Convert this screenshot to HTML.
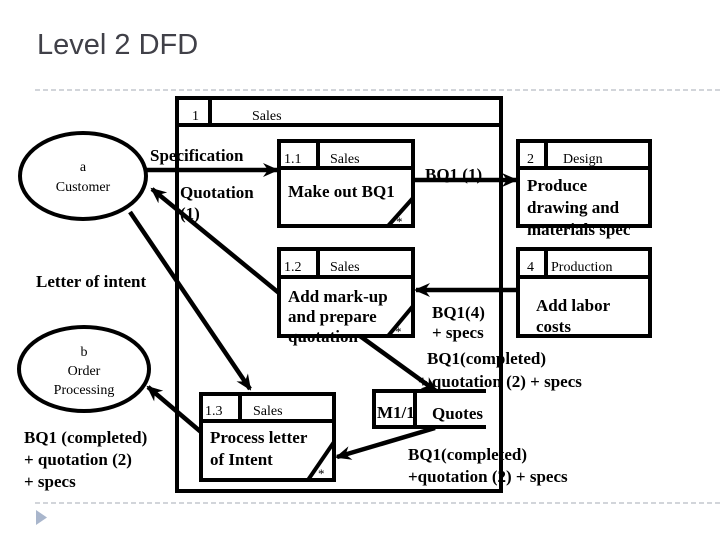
<!DOCTYPE html>
<html><head><meta charset="utf-8"><style>
html,body{margin:0;padding:0;background:#fff;}
svg{display:block;}
.t{font-family:"Liberation Serif",serif;fill:#000;}
.b{font-weight:bold;font-size:17px;}
.h{font-size:14px;}
</style></head><body>
<svg width="720" height="540" viewBox="0 0 720 540" xmlns="http://www.w3.org/2000/svg">
<defs>
<marker id="ar" markerWidth="10" markerHeight="10" refX="8" refY="5" orient="auto" markerUnits="userSpaceOnUse" viewBox="0 0 10 10">
<path d="M0,0 L10,5 L0,10 L3,5 z" fill="#000"/></marker>
<marker id="ar2" markerWidth="16" markerHeight="14" refX="14" refY="7" orient="auto" markerUnits="userSpaceOnUse" viewBox="0 0 16 14">
<path d="M0,0 L16,7 L0,14 L5,7 z" fill="#000"/></marker>
</defs>
<text x="37" y="54" font-family="Liberation Sans, sans-serif" font-size="29" fill="#404048">Level 2 DFD</text>
<line x1="35" y1="90" x2="720" y2="90" stroke="#b8bcc4" stroke-width="1.2" stroke-dasharray="5,3"/>
<line x1="35" y1="503" x2="720" y2="503" stroke="#b8bcc4" stroke-width="1.2" stroke-dasharray="5,3"/>
<path d="M36,510 L47,517.5 L36,525 z" fill="#a9b6cc"/>

<g fill="none" stroke="#000" stroke-width="4">
<!-- big box -->
<rect x="177" y="98" width="324" height="393"/>
<line x1="177" y1="125" x2="501" y2="125"/>
<line x1="210" y1="98" x2="210" y2="125"/>
<!-- 1.1 -->
<rect x="279" y="141" width="134" height="85"/>
<line x1="279" y1="168" x2="413" y2="168"/>
<line x1="318" y1="141" x2="318" y2="168"/>
<line x1="413" y1="198" x2="388" y2="226"/>
<!-- 1.2 -->
<rect x="279" y="249" width="134" height="87"/>
<line x1="279" y1="277" x2="413" y2="277"/>
<line x1="318" y1="249" x2="318" y2="277"/>
<line x1="413" y1="306" x2="388" y2="336"/>
<!-- 2 -->
<rect x="518" y="141" width="132" height="85"/>
<line x1="518" y1="168" x2="650" y2="168"/>
<line x1="546" y1="141" x2="546" y2="168"/>
<!-- 4 -->
<rect x="518" y="249" width="132" height="87"/>
<line x1="518" y1="277" x2="650" y2="277"/>
<line x1="546" y1="249" x2="546" y2="277"/>
<!-- 1.3 -->
<rect x="201" y="394" width="133" height="86"/>
<line x1="201" y1="421" x2="334" y2="421"/>
<line x1="240" y1="394" x2="240" y2="421"/>
<line x1="334" y1="442" x2="308" y2="480"/>
<!-- datastore -->
<path d="M486,391 L374,391 L374,427 L486,427"/>
<line x1="415" y1="391" x2="415" y2="427"/>
<!-- ellipses -->
<ellipse cx="83" cy="176" rx="63" ry="43"/>
<ellipse cx="84" cy="369" rx="65" ry="42"/>
</g>

<g stroke="#000" stroke-width="4.5" fill="none">
<line x1="146" y1="170" x2="277" y2="170" marker-end="url(#ar2)"/>
<line x1="279" y1="293" x2="152" y2="189" marker-end="url(#ar2)"/>
<line x1="130" y1="212" x2="250" y2="389" marker-end="url(#ar2)"/>
<line x1="413" y1="180" x2="516" y2="180" marker-end="url(#ar2)"/>
<line x1="518" y1="290" x2="416" y2="290" marker-end="url(#ar2)"/>
<line x1="360" y1="336" x2="436" y2="391" marker-end="url(#ar2)"/>
<line x1="435" y1="428" x2="337" y2="457" marker-end="url(#ar2)"/>
<line x1="201" y1="432" x2="148" y2="387" marker-end="url(#ar2)"/>
</g>

<g class="t h">
<text x="192" y="120">1</text>
<text x="252" y="120">Sales</text>
<text x="284" y="163">1.1</text>
<text x="330" y="163">Sales</text>
<text x="284" y="271">1.2</text>
<text x="330" y="271">Sales</text>
<text x="527" y="163">2</text>
<text x="563" y="163">Design</text>
<text x="527" y="271">4</text>
<text x="551" y="271">Production</text>
<text x="205" y="415">1.3</text>
<text x="253" y="415">Sales</text>
<text x="83" y="171" text-anchor="middle">a</text>
<text x="83" y="191" text-anchor="middle">Customer</text>
<text x="84" y="356" text-anchor="middle">b</text>
<text x="84" y="375" text-anchor="middle">Order</text>
<text x="84" y="394" text-anchor="middle">Processing</text>
</g>

<g class="t b">
<text x="150" y="161">Specification</text>
<text x="180" y="198">Quotation</text>
<text x="180" y="219">(1)</text>
<text x="288" y="197">Make out BQ1</text>
<text x="396" y="226" style="font-size:13px;font-weight:normal">*</text>
<text x="288" y="302">Add mark-up</text>
<text x="288" y="322">and prepare</text>
<text x="288" y="342">quotation</text>
<text x="395" y="336" style="font-size:13px;font-weight:normal">*</text>
<text x="36" y="287">Letter of intent</text>
<text x="425" y="180">BQ1 (1)</text>
<text x="527" y="191">Produce</text>
<text x="527" y="213">drawing and</text>
<text x="527" y="235">materials spec</text>
<text x="536" y="311">Add labor</text>
<text x="536" y="332">costs</text>
<text x="432" y="318">BQ1(4)</text>
<text x="432" y="338">+ specs</text>
<text x="427" y="364">BQ1(completed)</text>
<text x="418" y="387">+ quotation (2) + specs</text>
<text x="377" y="418">M1/1</text>
<text x="432" y="419">Quotes</text>
<text x="210" y="443">Process letter</text>
<text x="210" y="465">of Intent</text>
<text x="318" y="478" style="font-size:13px;font-weight:normal">*</text>
<text x="408" y="460">BQ1(completed)</text>
<text x="408" y="482">+quotation (2) + specs</text>
<text x="24" y="443">BQ1 (completed)</text>
<text x="24" y="465">+ quotation (2)</text>
<text x="24" y="487">+ specs</text>
</g>
</svg>
</body></html>
